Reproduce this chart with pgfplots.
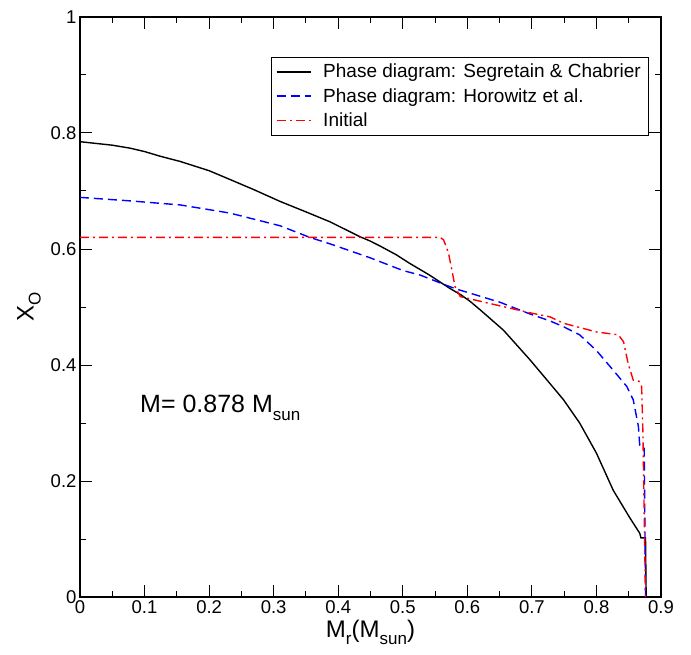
\documentclass[border=0pt]{standalone}
\usepackage{pgfplots}
\pgfplotsset{compat=1.18}
\usepackage{fontspec}
\setmainfont{Liberation Sans}
\newcommand{\sub}[2]{\raisebox{-0.55ex}{\fontsize{#1}{#1}\selectfont #2}}
\begin{document}
\begin{tikzpicture}[x=1pt,y=1pt]
\begin{axis}[
  scale only axis,
  width=581pt, height=580pt,
  xmin=0, xmax=0.9, ymin=0, ymax=1,
  xtick={0,0.1,...,0.9},
  ytick={0,0.2,...,1.0},
  minor x tick num=1,
  minor y tick num=1,
  tick align=inside,
  major tick length=12pt,
  minor tick length=6pt,
  tick style={black, line width=1pt},
  axis line style={line width=1.3pt},
  xticklabel style={/pgf/number format/fixed, /pgf/number format/precision=1},
  yticklabel style={/pgf/number format/fixed, /pgf/number format/precision=1},
  /pgf/number format/assume math mode=true,
  ticklabel style={font=\fontsize{18.5}{21}\selectfont},
  xlabel={M\sub{17}{r}(M\sub{17}{sun})},
  ylabel={X\sub{17}{O}},
  label style={font=\fontsize{24}{28}\selectfont},
  xlabel style={yshift=0pt},
  ylabel style={yshift=3pt},
  legend style={
    at={(axis description cs:0.9776,0.931)}, anchor=north east,
    fill=white,
    font=\fontsize{19}{22}\selectfont,
    row sep=3pt, column sep=10pt, inner xsep=5pt, inner ysep=4pt,
    nodes={inner ysep=3pt, text depth=0.15em},
  },
  legend cell align=left,
  legend image code/.code={\draw[mark repeat=2,mark phase=2,#1] plot coordinates {(0pt,0pt) (17pt,0pt) (34pt,0pt)};},
]
\addplot[black, line width=1.4pt] coordinates {
(0,0.785) (0.05,0.779) (0.077,0.774) (0.1,0.768) (0.124,0.760) (0.155,0.751)
(0.2,0.735) (0.232,0.720) (0.27,0.702) (0.31,0.682) (0.35,0.664) (0.387,0.647)
(0.434,0.621) (0.449,0.614) (0.465,0.605) (0.49,0.590) (0.511,0.575) (0.54,0.556)
(0.573,0.532) (0.59,0.521) (0.604,0.510) (0.62,0.495) (0.656,0.460) (0.697,0.409) (0.728,0.368)
(0.749,0.340) (0.774,0.300) (0.80,0.248) (0.826,0.184) (0.852,0.136) (0.867,0.110)
(0.869,0.102) (0.876,0.102) (0.877,0.0)
};
\addlegendentry{Phase diagram: Segretain \& Chabrier}
\addplot[blue, line width=1.4pt, dash pattern=on 9pt off 5pt] coordinates {
(0,0.689) (0.077,0.683) (0.155,0.676) (0.232,0.662) (0.31,0.640) (0.356,0.620) (0.387,0.609)
(0.449,0.585) (0.5,0.563) (0.527,0.555) (0.573,0.535) (0.589,0.529) (0.651,0.508)
(0.697,0.488) (0.728,0.476) (0.749,0.466) (0.774,0.452) (0.80,0.425) (0.826,0.391)
(0.847,0.363) (0.857,0.34) (0.865,0.294) (0.867,0.262) (0.874,0.259) (0.876,0.0)
};
\addlegendentry{Phase diagram: Horowitz et al.}
\addplot[red, line width=1.4pt, dash pattern=on 9pt off 4pt on 2pt off 4pt] coordinates {
(0,0.62) (0.558,0.62) (0.563,0.616) (0.567,0.605) (0.571,0.592) (0.576,0.564)
(0.581,0.535) (0.589,0.518) (0.635,0.506) (0.697,0.490) (0.728,0.483) (0.749,0.472)
(0.80,0.457) (0.834,0.452) (0.842,0.440) (0.849,0.403) (0.857,0.374) (0.866,0.372)
(0.870,0.363) (0.872,0.283) (0.876,0.0)
};
\addlegendentry{Initial}
\node[anchor=west, font=\fontsize{25}{28}\selectfont, inner sep=0pt] at (axis cs:0.093,0.326) {M= 0.878 M\sub{17}{sun}};
\coordinate (sw) at (rel axis cs:0,0);
\coordinate (ne) at (rel axis cs:1,1);
\end{axis}
\pgfresetboundingbox
\path[use as bounding box] ([shift={(-80pt,-57pt)}]sw) rectangle ([shift={(30pt,17pt)}]ne);
\end{tikzpicture}
\end{document}
